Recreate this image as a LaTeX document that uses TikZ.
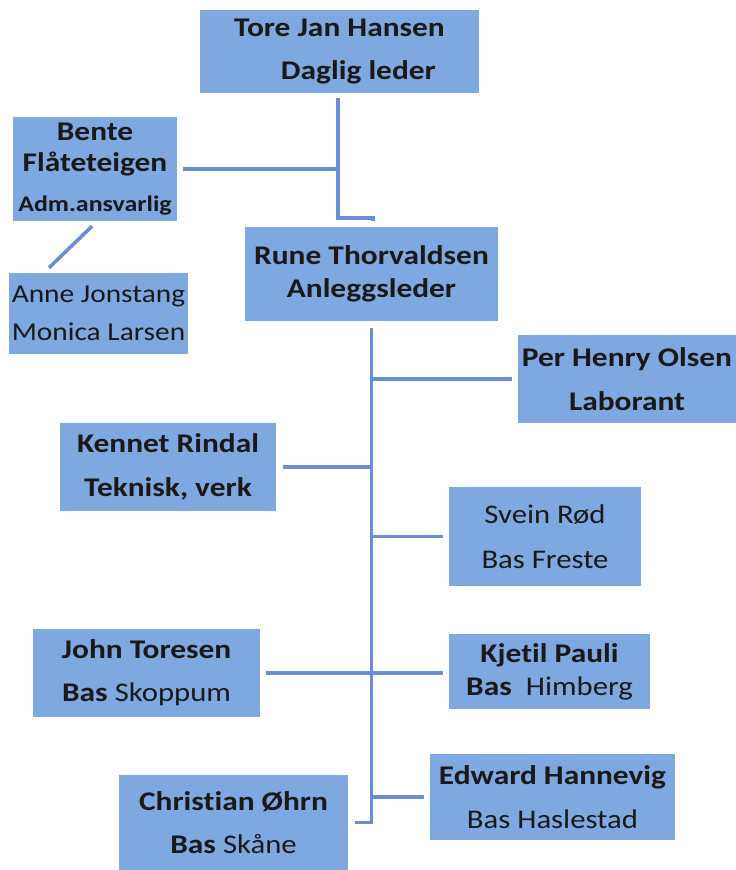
\documentclass[tikz,border=0pt]{standalone}
\usepackage{fontspec}
\setmainfont[Ligatures=NoCommon,FakeStretch=1.14,BoldFeatures={FakeStretch=1.165}]{Carlito}
\usetikzlibrary{calc}
\definecolor{boxblue}{RGB}{127,167,224}
\definecolor{linkblue}{RGB}{104,142,214}
\tikzset{
  orgbox/.style={fill=boxblue,inner sep=0pt,align=center,text=black!90,
    font=\fontsize{23}{37}\selectfont\bfseries},
  boxsize/.style 2 args={minimum width=#1*0.03cm,minimum height=#2*0.03cm},
  tight/.style={font=\fontsize{23}{28}\selectfont\bfseries},
  plain/.style={font=\fontsize{22}{32}\selectfont\mdseries},
  link/.style={draw=linkblue,line width=3pt},
}

\begin{document}
\begin{tikzpicture}[x=0.03cm,y=-0.03cm]
  \useasboundingbox (0,0) rectangle (736,870);
  % leder og stab
  \node[orgbox,boxsize={279}{83}] (tore) at (339.5,51.5) {Tore Jan Hansen\\\hspace*{1.4em}Daglig leder};
  \node[orgbox,boxsize={164}{104}] (bente) at (95,169)
    {Bente\\[-10pt]Flåteteigen\\[-3pt]{\fontsize{19}{22}\selectfont Adm.ansvarlig}};
  \node[orgbox,plain,boxsize={179}{81}] (staff) at (98.5,313.5) {Anne Jonstang\\Monica Larsen};
  \node[orgbox,tight,boxsize={253}{94}] (rune) at (371.5,274) {Rune Thorvaldsen\\Anleggsleder};
  % anlegg
  \node[orgbox,boxsize={218}{88}] (per) at (627,379) {Per Henry Olsen\\Laborant};
  \node[orgbox,boxsize={216}{88}] (kennet) at (168,467) {Kennet Rindal\\Teknisk, verk};
  \node[orgbox,boxsize={192}{99},font=\fontsize{23}{38}\selectfont\mdseries] (svein) at (545,536.5)
    {Svein Rød\\Bas Freste};
  \node[orgbox,boxsize={227}{88}] (john) at (146.5,673) {John Toresen\\Bas \textmd{Skoppum}};
  \node[orgbox,tight,boxsize={201}{75}] (kjetil) at (549.5,671.5) {Kjetil Pauli\\Bas\ \ \textmd{Himberg}};
  \node[orgbox,boxsize={245}{86},font=\fontsize{23}{38}\selectfont\bfseries] (edward) at (552.5,797)
    {Edward Hannevig\\\textmd{Bas Haslestad}};
  \node[orgbox,boxsize={229}{95}] (christian) at (233.5,822.5) {Christian Øhrn\\Bas \textmd{Skåne}};

  % linjer
  \coordinate (trunk) at ([shift={(0,7)}]rune.south);
  \draw[link] ([shift={(-1.5,5)}]tore.south) |- ([shift={(1.5,-9)}]rune.north) -- ++(0,3);
  \draw[link] ([shift={(6,0)}]bente.east) -- (bente.east -| tore.south);
  \draw[link] ([shift={(-3,5)}]bente.south) -- ([shift={(-49.5,-5)}]staff.north);
  \draw[link] (trunk) -- (trunk |- christian.east) -- ([shift={(7,0)}]christian.east);
  \draw[link] (per.west -| trunk) -- ([shift={(-6,0)}]per.west);
  \draw[link] (kennet.east -| trunk) -- ([shift={(7,0)}]kennet.east);
  \draw[link] (svein.west -| trunk) -- ([shift={(-6,0)}]svein.west);
  \draw[link] ([shift={(6,0)}]john.east) -- ($(john.east -| kjetil.west)+(-6,0)$);
  \draw[link] (edward.west -| trunk) -- ([shift={(-6,0)}]edward.west);
\end{tikzpicture}
\end{document}
